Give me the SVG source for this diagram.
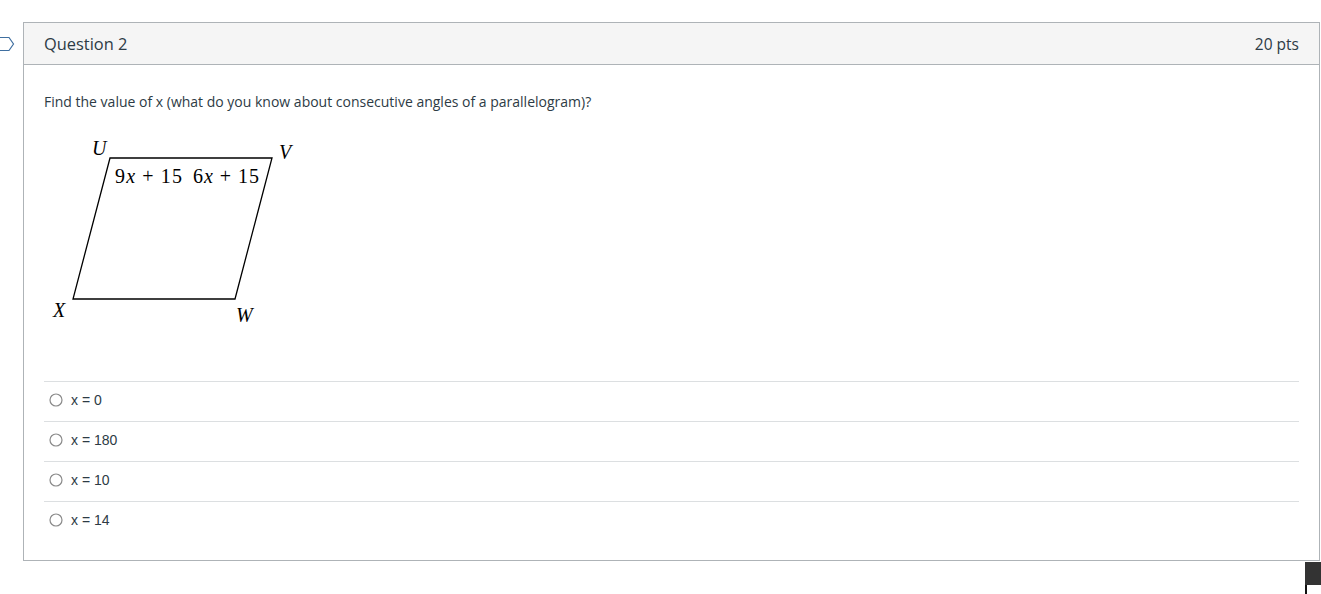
<svg xmlns="http://www.w3.org/2000/svg" width="1321" height="594" viewBox="0 0 1321 594">
<style>
.ui{font-family:"Open Sans","Noto Sans",sans-serif;fill:#2d3b45}
.opt{font-family:"Liberation Sans",Arial,sans-serif;font-size:14px;fill:#2d3b45}
.math{font-family:"Liberation Serif","Times New Roman",serif;font-size:20px;fill:#000}
.lbl{font-family:"Liberation Serif","Times New Roman",serif;font-size:20px;font-style:italic;fill:#000}
.sep{stroke:#dcdfe1;stroke-width:1}
.radio{fill:#fff;stroke:#8a8a8a;stroke-width:1.2}
</style>
<rect x="0" y="0" width="1321" height="594" fill="#fff"/>
<g id="pointer"><path d="M-2 37.5 H9 L13.5 44 L9 50.5 H-2 Z" fill="#fff" stroke="#3f6fa0" stroke-width="1.2"/></g>
<g id="card">
<rect x="23.5" y="22.5" width="1296" height="538" fill="#fff" stroke="#aeb3b7"/>
<rect x="24" y="23" width="1295" height="41" fill="#f5f5f5"/>
<line x1="24" y1="64.5" x2="1319" y2="64.5" stroke="#aeb3b7"/>
<text class="ui" x="44" y="50" font-size="16.4">Question 2</text>
<text class="ui" x="1299" y="50" font-size="15.5" text-anchor="end">20 pts</text>
<text class="ui" x="44" y="107" font-size="14">Find the value of x (what do you know about consecutive angles of a parallelogram)?</text>
</g>
<g id="figure">
<polygon points="110,158 272,158 235,299 73,299" fill="none" stroke="#000" stroke-width="1.3"/>
<text class="lbl" x="92" y="155">U</text>
<text class="lbl" x="279" y="159">V</text>
<text class="lbl" x="53" y="317">X</text>
<text class="lbl" x="236" y="322">W</text>
<text class="math" x="115" y="183" textLength="67" lengthAdjust="spacing">9<tspan font-style="italic">x</tspan> + 15</text>
<text class="math" x="193" y="183" textLength="66" lengthAdjust="spacing">6<tspan font-style="italic">x</tspan> + 15</text>
</g>
<g id="options">
<line class="sep" x1="44" y1="381.5" x2="1299" y2="381.5"/>
<line class="sep" x1="44" y1="421.5" x2="1299" y2="421.5"/>
<line class="sep" x1="44" y1="461.5" x2="1299" y2="461.5"/>
<line class="sep" x1="44" y1="501.5" x2="1299" y2="501.5"/>
<circle class="radio" cx="56" cy="400" r="6"/>
<text class="opt" x="71" y="405">x = 0</text>
<circle class="radio" cx="56" cy="440" r="6"/>
<text class="opt" x="71" y="445">x = 180</text>
<circle class="radio" cx="56" cy="480" r="6"/>
<text class="opt" x="71" y="485">x = 10</text>
<circle class="radio" cx="56" cy="520" r="6"/>
<text class="opt" x="71" y="525">x = 14</text>
</g>
<g id="corner">
<rect x="1305" y="562" width="16" height="23" fill="#333"/>
<rect x="1305" y="585" width="2" height="9" fill="#111"/>
</g>
</svg>
